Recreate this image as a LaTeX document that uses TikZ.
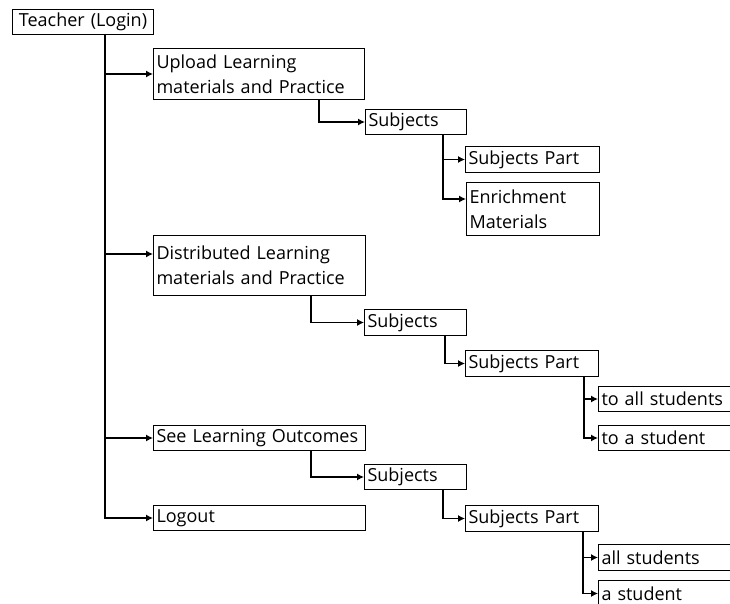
\documentclass[tikz,border=0pt]{standalone}
\usepackage{fontspec}
\newfontfamily\boxfont{Open Sans}
\usetikzlibrary{arrows.meta,calc,positioning}
\tikzset{
  menubox/.style 2 args = {draw, line width=1pt, anchor=north west, align=left,
  inner xsep=3pt, inner ysep=0pt, text width=#1, minimum height=#2,
  font=\boxfont\fontsize{18}{25}\selectfont},
  link/.style = {draw, line width=1.2pt, -{Latex[length=7pt,width=7pt]}}
}

\begin{document}
\begin{tikzpicture}[x=1pt,y=-1pt]
  \useasboundingbox (0,0) rectangle (730,604);
  \clip (0,0) rectangle (730,604);
  % boxes
  \node [menubox={135pt}{25pt}, align=center] (teacher) at (12,9) {Teacher (Login)};
  \node [menubox={205pt}{51pt}] (upload) at (153,48) {Upload Learning\\materials and Practice};
  \node [menubox={95pt}{25pt}] (subjA) at (365,109) {Subjects};
  \node [menubox={128pt}{26pt}] (partA) at (465,146) {Subjects Part};
  \node [menubox={127pt}{53pt}] (enrich) at (466,182) {Enrichment\\Materials};
  \node [menubox={206pt}{60pt}] (distrib) at (153,235) {Distributed Learning\\materials and Practice};
  \node [menubox={96pt}{26pt}] (subjB) at (364,309) {Subjects};
  \node [menubox={127pt}{26pt}] (partB) at (465,350) {Subjects Part};
  \node [menubox={136pt}{25pt}] (toall) at (598,386) {to all students};
  \node [menubox={136pt}{25pt}] (toone) at (598,425) {to a student};
  \node [menubox={206pt}{25pt}] (see) at (153,425) {See Learning Outcomes};
  \node [menubox={96pt}{25pt}] (subjC) at (364,464) {Subjects};
  \node [menubox={206pt}{25pt}] (logout) at (153,505) {Logout};
  \node [menubox={127pt}{26pt}] (partC) at (465,505) {Subjects Part};
  \node [menubox={136pt}{26pt}] (allst) at (598,544) {all students};
  \node [menubox={136pt}{26pt}] (onest) at (598,580) {a student};
  % connectors
  \coordinate (trunk) at ([xshift=93pt]teacher.south west);
  \draw [link] (trunk) |- (upload.west);
  \draw [link] (trunk) |- ([yshift=-19pt]distrib.north west);
  \draw [link] (trunk) |- (see.west);
  \draw [link] (trunk) |- (logout.west);
  \draw [link] ([xshift=166pt]upload.south west) |- (subjA.west);
  \draw [link] ([xshift=78pt]subjA.south west) |- (partA.west);
  \draw [link] ([xshift=78pt]subjA.south west) |- ([yshift=-17pt]enrich.north west);
  \draw [link] ([xshift=158pt]distrib.south west) |- (subjB.west);
  \draw [link] ([xshift=81pt]subjB.south west) |- (partB.west);
  \foreach \c in {toall,toone}
    \draw [link] ([xshift=119pt]partB.south west) |- (\c.west);
  \draw [link] ([xshift=158pt]see.south west) |- (subjC.west);
  \draw [link] ([xshift=79pt]subjC.south west) |- (partC.west);
  \foreach \c in {allst,onest}
    \draw [link] ([xshift=118pt]partC.south west) |- (\c.west);
\end{tikzpicture}
\end{document}
